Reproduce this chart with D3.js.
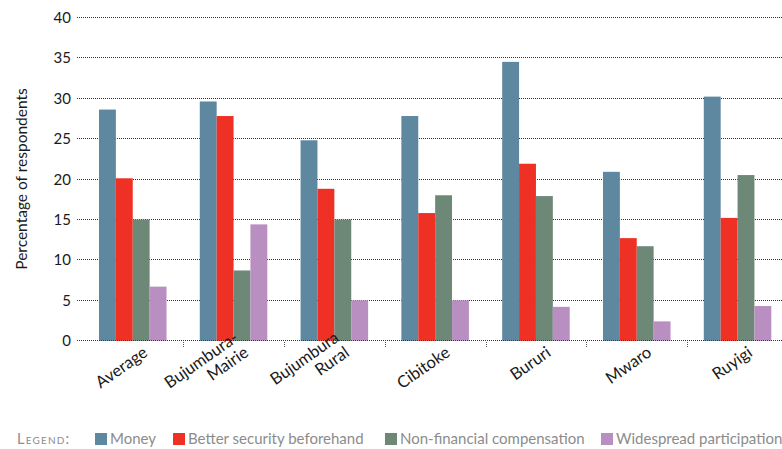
<!DOCTYPE html>
<html>
<head>
<meta charset="utf-8">
<script src="https://cdn.jsdelivr.net/npm/d3@7"></script>
<style>
  html, body { margin: 0; padding: 0; background: #fff; overflow: hidden; }
  svg { display: block; }
  text { font-family: Lato, "Open Sans", sans-serif; }
</style>
</head>
<body>
<svg id="chart" width="782" height="449"></svg>
<script>
const categories = ["Average", "Bujumbura-\nMairie", "Bujumbura\nRural", "Cibitoke", "Bururi", "Mwaro", "Ruyigi"];
const seriesNames = ["Money", "Better security beforehand", "Non-financial compensation", "Widespread participation"];
const money        = [28.6, 29.6, 24.8, 27.8, 34.5, 20.9, 30.2];
const security     = [20.1, 27.8, 18.8, 15.8, 21.9, 12.7, 15.2];
const nonFinancial = [15.0,  8.7, 15.0, 18.0, 17.9, 11.7, 20.5];
const participation= [ 6.7, 14.4,  5.0,  5.0,  4.2,  2.4,  4.3];
const yTicks = [0, 5, 10, 15, 20, 25, 30, 35, 40];
const colors = ["#5e87a0", "#ee3124", "#6d8876", "#b98fc2"];

const seriesValues = [money, security, nonFinancial, participation];
const svg = d3.select("#chart");

const y = d3.scaleLinear().domain([0, 40]).range([340.8, 17.4]);
const x0 = d3.scaleBand().domain(categories).range([82.35, 787.95]).paddingInner(0.33).paddingOuter(0.165);
const x1 = d3.scaleBand().domain(seriesNames).range([0, x0.bandwidth()]);

// gridlines
const gridLeft = 77;
svg.append("g").selectAll("line").data(yTicks).join("line")
  .attr("x1", gridLeft).attr("x2", 782)
  .attr("y1", d => Math.floor(y(d)) + 0.5).attr("y2", d => Math.floor(y(d)) + 0.5)
  .attr("stroke", "#333").attr("stroke-width", 1).attr("stroke-dasharray", "1,1");

// y tick labels
svg.append("g").selectAll("text").data(yTicks).join("text")
  .attr("x", 71).attr("y", d => Math.floor(y(d)) + 0.5)
  .attr("dy", "0.35em").attr("text-anchor", "end")
  .attr("font-size", 15).attr("fill", "#1a1a1a")
  .text(d => d);

// bars
const groups = svg.append("g").selectAll("g").data(categories).join("g")
  .attr("transform", c => `translate(${x0(c)},0)`);
groups.selectAll("rect").data((c, i) => seriesNames.map((s, j) => ({ s, v: seriesValues[j][i], j })))
  .join("rect")
  .attr("x", d => x1(d.s)).attr("width", x1.bandwidth())
  .attr("y", d => y(d.v)).attr("height", d => y(0) - y(d.v))
  .attr("fill", d => colors[d.j]);

// redraw zero line on top
svg.append("line")
  .attr("x1", gridLeft).attr("x2", 782)
  .attr("y1", Math.floor(y(0)) + 0.5).attr("y2", Math.floor(y(0)) + 0.5)
  .attr("stroke", "#333").attr("stroke-dasharray", "1,1");

// category boundary ticks
const step = x0.step();
svg.append("g").selectAll("line").data(categories.slice(1)).join("line")
  .attr("x1", c => Math.round(x0(c) - step * x0.paddingInner() / 2) + 0.5)
  .attr("x2", c => Math.round(x0(c) - step * x0.paddingInner() / 2) + 0.5)
  .attr("y1", 342).attr("y2", 348)
  .attr("stroke", "#555").attr("stroke-dasharray", "1,1");

// category labels
const lab = svg.append("g").selectAll("text").data(categories).join("text")
  .attr("transform", c => `translate(${x0(c) + x0.bandwidth() / 2 + 16},355) rotate(-35)`)
  .attr("text-anchor", "end").attr("font-size", 16.5).attr("fill", "#1a1a1a");
lab.each(function(c) {
  const lines = c.split("\n");
  const t = d3.select(this);
  lines.forEach((l, k) => {
    t.append("tspan").attr("x", 0).attr("y", (k - (lines.length - 1)) * 18).text(l);
  });
});

// y axis title
svg.append("text")
  .attr("transform", "translate(26.5,179) rotate(-90)")
  .attr("text-anchor", "middle").attr("font-size", 15.5).attr("fill", "#1a1a1a")
  .text("Percentage of respondents");

// legend
svg.append("text").attr("x", 17).attr("y", 444)
  .attr("font-size", 14.5).attr("fill", "#8c8c8c")
  .attr("letter-spacing", 1.2).style("font-variant", "small-caps")
  .text("Legend:");
const legendX = [95, 173, 385, 601];
const lg = svg.append("g").selectAll("g").data(seriesNames).join("g")
  .attr("transform", (d, i) => `translate(${legendX[i]},0)`);
lg.append("rect").attr("x", 0).attr("y", 433).attr("width", 12).attr("height", 12)
  .attr("fill", (d, i) => colors[i]);
lg.append("text").attr("x", 15).attr("y", 444).attr("font-size", 15).attr("fill", "#8c8c8c")
  .text(d => d);
</script>
</body>
</html>
